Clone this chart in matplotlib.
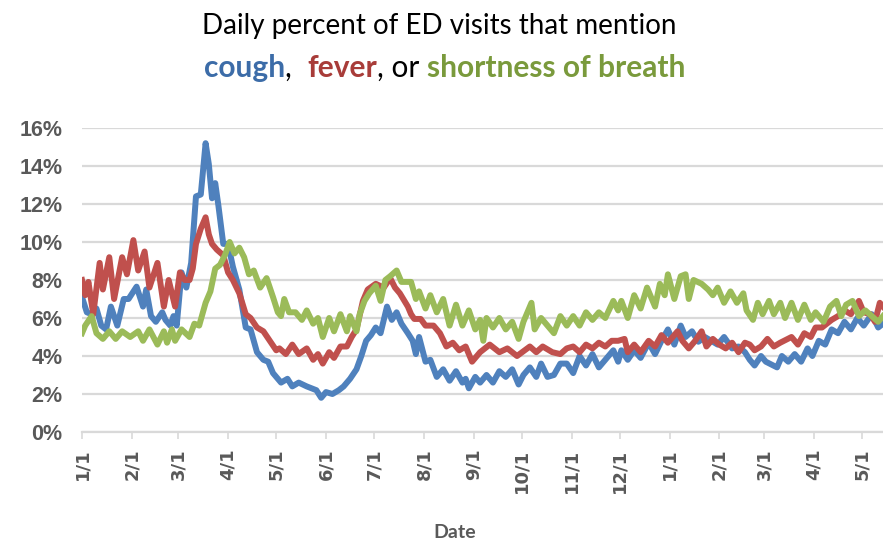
import numpy as np
import matplotlib
matplotlib.use("Agg")
import matplotlib.pyplot as plt
import matplotlib.dates as mdates
from matplotlib.offsetbox import TextArea, HPacker, AnchoredOffsetbox

# days counted from 2020-01-01, values in percent
START = np.datetime64("2020-01-01")

cough_day = [0, 3, 6, 9, 12, 15, 18, 22, 26, 29, 34, 38, 40, 43, 46, 50, 52, 55, 57, 59,
             62, 65, 68, 71, 74, 77, 79, 81, 83, 85, 88, 91, 94, 98, 102, 105, 109, 113, 116, 119,
             124, 128, 131, 135, 140, 146, 149, 152, 156, 160, 163, 167, 171, 174, 177, 180, 183, 186, 190, 193,
             196, 199, 203, 206, 208, 210, 214, 217, 221, 225, 229, 233, 237, 239, 241, 245, 248, 252, 256, 260,
             264, 268, 272, 275, 279, 283, 286, 290, 294, 298, 302, 306, 310, 314, 318, 322, 327, 331, 334, 336,
             340, 344, 348, 353, 357, 361, 365, 369, 373, 376, 380, 384, 388, 392, 396, 400, 405, 409, 413, 416,
             419, 423, 426, 433, 436, 440, 444, 448, 452, 455, 459, 463, 467, 471, 475, 479, 483, 487, 492, 496, 499]
cough_pct = [7.1, 6.3, 6.2, 6.5, 5.6, 5.4, 6.6, 5.6, 7.0, 7.0, 7.65, 6.6, 7.5, 6.1, 5.8, 6.3, 5.9, 5.6, 6.1, 5.6,
             8.4, 7.6, 8.9, 12.4, 12.5, 15.2, 14.1, 12.3, 13.1, 11.9, 9.9, 9.9, 8.7, 7.5, 5.5, 5.4, 4.2, 3.8, 3.7, 3.1,
             2.6, 2.8, 2.4, 2.6, 2.4, 2.2, 1.8, 2.1, 2.0, 2.2, 2.4, 2.8, 3.3, 4.0, 4.8, 5.1, 5.5, 5.2, 6.6, 5.9,
             6.3, 5.7, 5.2, 4.8, 4.1, 5.0, 3.7, 3.8, 2.9, 3.3, 2.7, 3.2, 2.6, 2.8, 2.3, 2.9, 2.6, 3.0, 2.6, 3.2,
             2.9, 3.3, 2.5, 3.0, 3.4, 2.9, 3.6, 2.9, 3.0, 3.6, 3.6, 3.1, 4.0, 3.5, 4.1, 3.4, 3.9, 4.3, 3.7, 4.3,
             3.8, 4.3, 3.9, 4.7, 4.1, 4.8, 5.4, 4.6, 5.6, 5.0, 5.3, 4.75, 5.0, 4.8, 4.6, 5.0, 4.4, 4.5, 4.2, 3.8,
             3.5, 4.0, 3.7, 3.4, 4.0, 3.7, 4.1, 3.7, 4.4, 4.0, 4.8, 4.6, 5.4, 5.2, 5.8, 5.4, 6.0, 5.6, 6.2, 5.5, 5.7]

fever_day = [0, 2, 4, 7, 11, 13, 17, 20, 25, 28, 32, 35, 39, 42, 47, 51, 54, 58, 61, 64,
             67, 69, 71, 74, 77, 79, 81, 84, 88, 91, 94, 98, 102, 105, 109, 113, 117, 121, 123, 127,
             131, 135, 140, 144, 147, 150, 154, 157, 161, 165, 168, 171, 175, 178, 183, 188, 192, 195, 198, 203,
             205, 207, 211, 214, 219, 223, 227, 231, 235, 239, 243, 248, 254, 260, 265, 271, 279, 283, 287, 293,
             298, 302, 306, 310, 314, 318, 322, 326, 330, 334, 338, 340, 344, 348, 353, 357, 361, 365, 371, 374,
             378, 382, 386, 389, 393, 397, 401, 405, 409, 413, 416, 419, 423, 427, 431, 435, 442, 446, 450, 454,
             457, 461, 467, 471, 475, 479, 484, 487, 491, 494, 497, 499]
fever_pct = [8.0, 7.2, 7.9, 6.2, 8.9, 7.5, 9.2, 7.0, 9.2, 8.3, 10.1, 8.5, 9.5, 7.6, 8.9, 6.6, 8.0, 6.6, 8.4, 8.0,
             8.0, 8.6, 9.9, 10.7, 11.3, 10.4, 9.9, 9.6, 9.3, 8.4, 8.0, 7.3, 6.2, 6.0, 5.5, 5.3, 4.8, 4.3, 4.4, 4.1,
             4.6, 4.1, 4.4, 3.8, 4.1, 3.6, 4.2, 3.9, 4.5, 4.5, 5.0, 5.4, 6.9, 7.5, 7.8, 7.6, 8.1, 7.6, 7.3, 6.6,
             6.2, 5.95, 5.95, 5.6, 5.6, 5.2, 4.5, 4.7, 4.3, 4.5, 3.7, 4.2, 4.6, 4.2, 4.4, 4.0, 4.5, 4.2, 4.5, 4.2,
             4.1, 4.4, 4.5, 4.2, 4.6, 4.4, 4.7, 4.5, 4.8, 4.8, 4.9, 4.2, 4.6, 4.2, 4.8, 4.5, 5.1, 4.7, 5.3, 4.8,
             4.4, 4.8, 5.3, 4.5, 4.9, 4.6, 4.4, 4.7, 4.2, 4.7, 4.6, 4.3, 4.5, 4.9, 4.5, 4.7, 5.0, 4.6, 5.2, 5.0,
             5.5, 5.5, 5.9, 6.1, 6.4, 6.2, 6.9, 6.3, 6.2, 5.8, 6.8, 6.6]

breath_day = [0, 2, 6, 9, 13, 17, 21, 25, 30, 35, 38, 42, 47, 51, 53, 56, 58, 62, 67, 70,
              73, 77, 80, 83, 86, 89, 92, 95, 98, 101, 104, 107, 111, 115, 119, 122, 124, 126, 129, 133,
              137, 140, 144, 147, 150, 154, 157, 161, 165, 167, 171, 173, 176, 179, 183, 186, 189, 192, 196, 199,
              202, 205, 208, 210, 214, 217, 221, 225, 229, 233, 237, 241, 245, 248, 250, 252, 256, 260, 264, 268,
              272, 275, 280, 282, 286, 290, 294, 298, 302, 306, 310, 314, 318, 322, 326, 331, 334, 336, 340, 344,
              348, 352, 357, 360, 363, 365, 369, 373, 376, 378, 381, 386, 390, 393, 396, 400, 404, 408, 412, 414,
              418, 421, 424, 428, 431, 435, 438, 442, 446, 450, 454, 457, 462, 466, 470, 473, 476, 480, 484, 488,
              492, 496, 499]
breath_pct = [5.2, 5.6, 6.1, 5.2, 4.9, 5.3, 4.9, 5.3, 5.0, 5.3, 4.8, 5.4, 4.6, 5.3, 4.7, 5.4, 4.8, 5.4, 5.0, 5.7,
              5.6, 6.8, 7.4, 8.6, 8.8, 9.3, 10.0, 9.4, 9.7, 9.2, 8.3, 8.5, 7.6, 8.1, 7.1, 6.3, 6.1, 7.0, 6.3, 6.3,
              5.9, 6.4, 5.7, 6.0, 5.0, 6.0, 5.3, 6.2, 5.3, 6.1, 5.3, 6.2, 6.9, 7.3, 7.7, 6.9, 8.0, 8.2, 8.5, 7.9,
              7.9, 7.9, 7.0, 7.4, 6.5, 7.2, 6.3, 7.0, 5.6, 6.7, 5.6, 6.4, 5.4, 5.9, 4.8, 6.0, 5.5, 6.0, 5.4, 5.8,
              4.9, 5.8, 6.8, 5.4, 6.0, 5.6, 5.2, 6.1, 5.6, 6.1, 5.6, 6.3, 5.9, 6.3, 6.0, 6.9, 6.4, 6.9, 6.0, 7.2,
              6.5, 7.6, 6.6, 7.8, 7.2, 8.3, 7.0, 8.2, 8.3, 7.0, 8.0, 7.8, 7.5, 7.2, 7.6, 6.8, 7.4, 6.8, 7.3, 6.4,
              5.9, 6.8, 6.2, 6.9, 6.2, 6.8, 6.0, 6.8, 5.9, 6.7, 5.9, 6.3, 5.8, 6.6, 6.9, 6.1, 6.7, 6.9, 6.1, 6.4,
              6.1, 5.8, 6.1]

y_ticks = [0, 2, 4, 6, 8, 10, 12, 14, 16]
LAST_DAY = 499

BLUE = "#4F81BD"
RED = "#C0504D"
GREEN = "#9BBB59"
GRID = "#D9D9D9"
LABEL = "#595959"


def to_dates(days):
    return START + np.array(days, dtype="timedelta64[D]")


fig = plt.figure(figsize=(8.83, 5.5), dpi=100)
ax = fig.add_axes([82 / 883, 1 - 432 / 550, 801 / 883, 304 / 550])

ax.plot(to_dates(cough_day), cough_pct, color=BLUE, lw=4.3, solid_joinstyle="round", zorder=3)
ax.plot(to_dates(fever_day), fever_pct, color=RED, lw=4.3, solid_joinstyle="round", zorder=4)
ax.plot(to_dates(breath_day), breath_pct, color=GREEN, lw=4.3, solid_joinstyle="round", zorder=5)

ax.set_xlim(START, START + np.timedelta64(LAST_DAY, "D"))
ax.set_ylim(0, 16)
ax.set_yticks(y_ticks)
ax.set_yticklabels([f"{v}%" for v in y_ticks])
ax.yaxis.grid(True, color=GRID, lw=1.6)
ax.set_axisbelow(True)

ax.xaxis.set_major_locator(mdates.MonthLocator())
ax.xaxis.set_major_formatter(mdates.DateFormatter("%-m/%-d"))

for side in ["top", "right", "left"]:
    ax.spines[side].set_visible(False)
ax.spines["bottom"].set_color(GRID)
ax.spines["bottom"].set_linewidth(1.6)

ax.tick_params(axis="y", length=0, pad=14, labelcolor=LABEL)
ax.tick_params(axis="x", length=5, width=1.2, color=GRID, pad=7, labelcolor=LABEL,
               labelrotation=90)
for lab in ax.get_yticklabels():
    lab.set_fontfamily("Liberation Sans")
    lab.set_fontweight("bold")
    lab.set_fontsize(15.5)
for lab in ax.get_xticklabels():
    lab.set_fontfamily("DejaVu Sans")
    lab.set_fontweight("bold")
    lab.set_fontsize(13)
    lab.set_verticalalignment("top")

fig.text(455 / 883, 1 - 533 / 550, "Date", ha="center", va="center",
         family="Lato", fontweight="bold", fontsize=14, color=LABEL)

# title, two lines
fig.text(439 / 883, 1 - 34 / 550, "Daily percent of ED visits that mention", ha="center",
         va="baseline", family="Lato", fontsize=20, color="black")

title_parts = [
    ("cough", "#3C6CA8", "bold"),
    (",  ", "black", "normal"),
    ("fever", "#A83C39", "bold"),
    (", or ", "black", "normal"),
    ("shortness of breath", "#7A9A3C", "bold"),
]
boxes = [TextArea(t, textprops=dict(color=c, fontweight=w, family="Lato", fontsize=21.5))
         for t, c, w in title_parts]
row = HPacker(children=boxes, align="baseline", pad=0, sep=0)
anchored = AnchoredOffsetbox(loc="center", child=row, pad=0, borderpad=0, frameon=False,
                             bbox_to_anchor=(445 / 883, 1 - 68 / 550),
                             bbox_transform=fig.transFigure)
fig.add_artist(anchored)

fig.savefig("out.png", dpi=100)
